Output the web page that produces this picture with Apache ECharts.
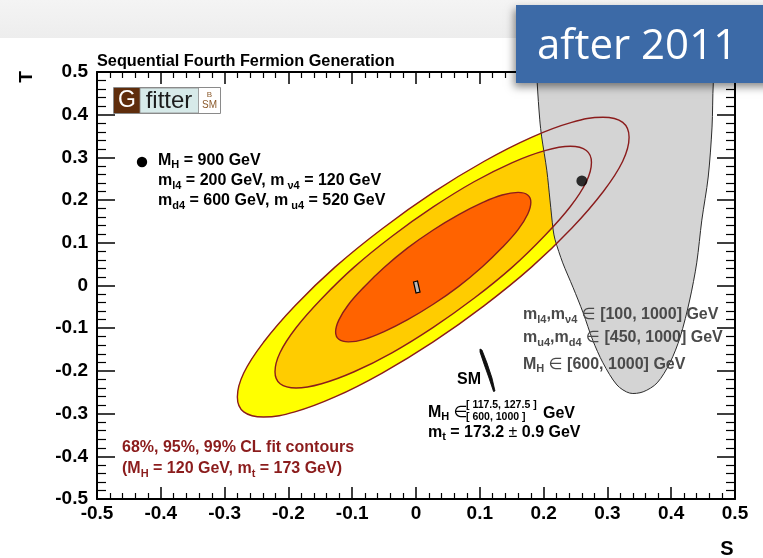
<!DOCTYPE html>
<html>
<head>
<meta charset="utf-8">
<script src="https://cdn.jsdelivr.net/npm/echarts@6/dist/echarts.min.js"></script>
<style>
  html, body { margin: 0; padding: 0; background: #ffffff; }
  #chart { width: 763px; height: 558px; }
</style>
</head>
<body>
<div id="chart"></div>
<script>
// Oblique parameters S, T: axis ranges and tick step
const sRange = [-0.5, 0.5];
const tRange = [-0.5, 0.5];
const tickStep = 0.1;

// Electroweak fit contours (M_H = 120 GeV, m_t = 173 GeV), [S, T] points
const contour68 = [
  [0.180, 0.195], [0.175, 0.167], [0.160, 0.131], [0.135, 0.089], [0.104, 0.044], [0.067, -0.002],
  [0.027, -0.044], [-0.013, -0.080], [-0.050, -0.108], [-0.081, -0.126], [-0.106, -0.132], [-0.121, -0.126],
  [-0.126, -0.109], [-0.121, -0.081], [-0.106, -0.045], [-0.081, -0.003], [-0.050, 0.042], [-0.013, 0.088],
  [0.027, 0.130], [0.067, 0.166], [0.104, 0.194], [0.135, 0.212], [0.160, 0.218], [0.175, 0.212]
];
const contour95 = [
  [0.275, 0.288], [0.267, 0.243], [0.242, 0.185], [0.202, 0.117], [0.151, 0.043], [0.091, -0.030],
  [0.027, -0.098], [-0.037, -0.157], [-0.097, -0.202], [-0.148, -0.230], [-0.188, -0.240], [-0.213, -0.230],
  [-0.221, -0.202], [-0.213, -0.157], [-0.188, -0.099], [-0.148, -0.031], [-0.097, 0.043], [-0.037, 0.116],
  [0.027, 0.184], [0.091, 0.243], [0.151, 0.288], [0.202, 0.316], [0.242, 0.326], [0.267, 0.316]
];
const contour99 = [
  [0.334, 0.347], [0.324, 0.291], [0.293, 0.219], [0.244, 0.134], [0.181, 0.043], [0.107, -0.047],
  [0.027, -0.132], [-0.053, -0.205], [-0.127, -0.261], [-0.190, -0.296], [-0.239, -0.308], [-0.270, -0.296],
  [-0.280, -0.261], [-0.270, -0.205], [-0.239, -0.133], [-0.190, -0.048], [-0.127, 0.043], [-0.053, 0.133],
  [0.027, 0.218], [0.107, 0.291], [0.181, 0.347], [0.244, 0.382], [0.293, 0.394], [0.324, 0.382]
];

// Fourth-generation parameter scan region
const fourthGenRegion = [
  [0.190, 0.500], [0.190, 0.474], [0.194, 0.388], [0.197, 0.348], [0.205, 0.270], [0.210, 0.200],
  [0.215, 0.130], [0.218, 0.107], [0.230, 0.053], [0.246, -0.004], [0.262, -0.064], [0.277, -0.128],
  [0.293, -0.181], [0.315, -0.233], [0.335, -0.252], [0.356, -0.249], [0.378, -0.228], [0.398, -0.181],
  [0.414, -0.121], [0.429, -0.034], [0.440, 0.053], [0.448, 0.153], [0.458, 0.254], [0.464, 0.371],
  [0.466, 0.474], [0.469, 0.500]
];

// Benchmark point: M_H = 900 GeV, m_l4 = 200, m_v4 = 120, m_d4 = 600, m_u4 = 520 GeV
const benchmarkPoint = [[0.26, 0.245]];

// SM reference (M_H = 120 GeV) and SM prediction band
const smReference = [[-0.0039, 0.0082], [0.0024, 0.0105], [0.0063, -0.0152], [0.0000, -0.0176]];
const smPrediction = [
  [0.1003, -0.1487], [0.1034, -0.1511], [0.1113, -0.1815], [0.1191, -0.2166], [0.1238, -0.2471],
  [0.1215, -0.2482], [0.1144, -0.2166], [0.1066, -0.1838], [0.1003, -0.1557]
];

const FONT = '"Liberation Sans", "DejaVu Sans", Arial, sans-serif';
const CONTOUR_LINE = '#8b1c1c';

function polygonSeries(name, pts, style, z, smooth) {
  return {
    type: 'custom',
    name: name,
    z: z,
    silent: true,
    clip: true,
    data: pts,
    renderItem: function (params, api) {
      if (params.dataIndex !== 0) return null;
      const coords = pts.map(function (p) { return api.coord(p); });
      return {
        type: 'polygon',
        shape: { points: coords, smooth: smooth },
        style: style
      };
    }
  };
}

function richStyles(size, subSize) {
  return {
    b: { fontFamily: FONT, fontWeight: 'bold', fontSize: size, lineHeight: 20 },
    s: { fontFamily: FONT, fontWeight: 'bold', fontSize: subSize, lineHeight: 10, verticalAlign: 'bottom' },
    e: { fontFamily: FONT, fontWeight: 'normal', fontSize: size, lineHeight: 20 }
  };
}

function note(x, y, text, color) {
  return {
    type: 'text', x: x, y: y, z: 60, silent: true,
    style: { text: text, fill: color, rich: richStyles(16, 11), verticalAlign: 'middle', align: 'left' }
  };
}

function plain(x, y, text, color, size, weight, family, align, extra) {
  return Object.assign({
    type: 'text', x: x, y: y, z: 60, silent: true,
    style: {
      text: text, fill: color, fontSize: size, fontWeight: weight || 'normal',
      fontFamily: family || FONT, align: align || 'left', verticalAlign: 'middle'
    }
  }, extra || {});
}

function axisCommon(tickLen, minorLen, showLabel, margin) {
  return {
    type: 'value',
    axisLine: { show: true, onZero: false, lineStyle: { color: '#000', width: 2 } },
    axisTick: { show: true, inside: true, length: tickLen, lineStyle: { color: '#000', width: 1.5 } },
    minorTick: { show: true, splitNumber: 5, length: minorLen, lineStyle: { color: '#000', width: 1.2 } },
    axisLabel: { show: showLabel, color: '#000', fontSize: 19, fontWeight: 'bold', fontFamily: FONT, margin: margin },
    splitLine: { show: false }
  };
}

const xBottom = Object.assign(axisCommon(12, 6, true, 5), { position: 'bottom', min: sRange[0], max: sRange[1], interval: tickStep });
const xTop = Object.assign(axisCommon(12, 6, false, 5), { position: 'top', min: sRange[0], max: sRange[1], interval: tickStep });
const yLeft = Object.assign(axisCommon(18, 9, true, 9), { position: 'left', min: tRange[0], max: tRange[1], interval: tickStep });
const yRight = Object.assign(axisCommon(18, 9, false, 9), { position: 'right', min: tRange[0], max: tRange[1], interval: tickStep });

const chart = echarts.init(document.getElementById('chart'), null, { renderer: 'canvas' });

chart.setOption({
  animation: false,
  backgroundColor: '#ffffff',
  grid: { left: 97, right: 28, top: 72, bottom: 59, containLabel: false },
  xAxis: [xBottom, xTop],
  yAxis: [yLeft, yRight],
  series: [
    polygonSeries('99% CL', contour99, { fill: '#ffff00' }, 3, 0.4),
    polygonSeries('95% CL', contour95, { fill: '#ffcc00' }, 4, 0.4),
    polygonSeries('68% CL', contour68, { fill: '#ff6300' }, 5, 0.4),
    polygonSeries('4th generation', fourthGenRegion, { fill: '#d4d4d4', stroke: '#2b2b2b', lineWidth: 1 }, 6, 0.3),
    polygonSeries('99% CL line', contour99, { fill: 'none', stroke: CONTOUR_LINE, lineWidth: 1.4 }, 7, 0.4),
    polygonSeries('95% CL line', contour95, { fill: 'none', stroke: CONTOUR_LINE, lineWidth: 1.4 }, 7, 0.4),
    polygonSeries('68% CL line', contour68, { fill: 'none', stroke: CONTOUR_LINE, lineWidth: 1.4 }, 7, 0.4),
    polygonSeries('SM', smReference, { fill: '#b8b8b8', stroke: '#000', lineWidth: 1.2 }, 8, 0),
    polygonSeries('SM prediction', smPrediction, { fill: '#111', stroke: '#000', lineWidth: 0.8 }, 8, 0),
    {
      type: 'scatter', name: 'benchmark', z: 9, silent: true,
      data: benchmarkPoint, symbol: 'circle', symbolSize: 11,
      itemStyle: { color: '#000' }
    }
  ],
  graphic: { elements: [
    // faint slide band above the plot
    { type: 'rect', z: 1, silent: true, shape: { x: 0, y: 0, width: 763, height: 38 },
      style: { fill: new echarts.graphic.LinearGradient(0, 0, 0, 1, [
        { offset: 0, color: '#f4f4f4' }, { offset: 1, color: '#ededed' }]) } },

    // title and axis names
    plain(97, 62, 'Sequential Fourth Fermion Generation', '#000', 16.3, 'bold'),
    plain(27, 77, 'T', '#000', 19, 'bold', FONT, 'center', { rotation: Math.PI / 2 }),
    plain(727, 549, 'S', '#000', 20, 'bold', FONT, 'center'),

    // Gfitter logo
    { type: 'rect', z: 60, silent: true, shape: { x: 113.5, y: 87.5, width: 107, height: 26 },
      style: { fill: '#ffffff', stroke: '#8a8a8a', lineWidth: 1 } },
    { type: 'rect', z: 61, silent: true, shape: { x: 114, y: 88, width: 26, height: 25 }, style: { fill: '#5f2d0c' } },
    { type: 'rect', z: 61, silent: true, shape: { x: 140, y: 88, width: 58.5, height: 25 },
      style: { fill: '#d7eae9', stroke: '#8a8a8a', lineWidth: 0.8 } },
    plain(127, 101, 'G', '#ffffff', 23, 'normal', FONT, 'center', { z: 62 }),
    plain(169, 101, 'fitter', '#1c1c1c', 24, 'normal', FONT, 'center', { z: 62 }),
    plain(209.5, 94.5, 'B', '#8b5a2b', 8, 'normal', FONT, 'center', { z: 62 }),
    plain(209.5, 105.5, 'SM', '#8b5a2b', 10, 'normal', FONT, 'center', { z: 62 }),

    // benchmark legend
    { type: 'circle', z: 60, silent: true, shape: { cx: 142, cy: 162, r: 5.2 }, style: { fill: '#000' } },
    note(158, 160.5, '{b|M}{s|H}{b| = 900 GeV}', '#000'),
    note(158, 181, '{b|m}{s|l4}{b| = 200 GeV, m}{s| ν4}{b| = 120 GeV}', '#000'),
    note(158, 201, '{b|m}{s|d4}{b| = 600 GeV, m}{s| u4}{b| = 520 GeV}', '#000'),

    // scan ranges
    note(523, 315, '{b|m}{s|l4}{b|,m}{s|ν4}{e| ∈ }{b|[100, 1000] GeV}', '#4a4a4a'),
    note(523, 338, '{b|m}{s|u4}{b|,m}{s|d4}{e| ∈ }{b|[450, 1000] GeV}', '#4a4a4a'),
    note(523, 364.5, '{b|M}{s|H}{e| ∈ }{b|[600, 1000] GeV}', '#4a4a4a'),

    // SM annotation
    note(457, 380, '{b|SM}', '#000'),
    note(428, 412.5, '{b|M}{s|H}{e| ∈}', '#000'),
    plain(466, 405.5, '[ 117.5, 127.5 ]', '#000', 10.5, 'bold'),
    plain(466, 417.5, '[ 600, 1000 ]', '#000', 10.5, 'bold'),
    note(543, 413.5, '{b|GeV}', '#000'),
    note(428, 432.5, '{b|m}{s|t}{b| = 173.2 }{e|±}{b| 0.9 GeV}', '#000'),

    // fit contour caption
    note(122, 448, '{b|68%, 95%, 99% CL fit contours}', '#8b1c1c'),
    note(122, 469, '{b|(M}{s|H}{b| = 120 GeV, m}{s|t}{b| = 173 GeV)}', '#8b1c1c'),

    // period tag
    { type: 'rect', z: 90, silent: true, shape: { x: 516, y: 5, width: 260, height: 78 },
      style: { fill: '#3c6aa7', shadowBlur: 8, shadowOffsetX: -2, shadowOffsetY: 4, shadowColor: 'rgba(0,0,0,0.45)' } },
    plain(537, 47, 'after 2011', '#ffffff', 42, 'normal', '"Open Sans", "Noto Sans", sans-serif', 'left', { z: 91 })
  ] }
});
</script>
</body>
</html>
